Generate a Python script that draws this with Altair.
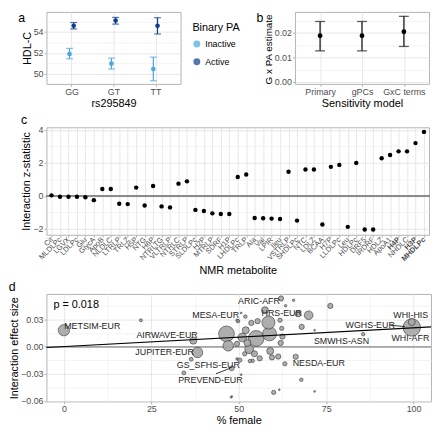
import altair as alt
import pandas as pd

FONT = "Liberation Sans"
LABEL_C = "#4D4D4D"
GRID = "#E0E0E0"
MINOR = "#F0F0F0"
BORDER = "#B3B3B3"
TRANSP = "rgba(0,0,0,0)"

# ---------------- panel a data ----------------
genotypes = ["GG", "GT", "TT"]
pa_levels = ["Inactive", "Active"]
inactive_est = [51.90, 50.98, 50.46]
inactive_lo = [51.44, 50.46, 49.35]
inactive_hi = [52.43, 51.50, 51.60]
active_est = [54.58, 55.08, 54.58]
active_lo = [54.28, 54.74, 53.80]
active_hi = [54.89, 55.38, 55.35]
pa_colors = ["#4BA7DD", "#0E3F8C"]

# ---------------- panel b data ----------------
models = ["Primary", "gPCs", "GxC terms"]
model_est = [0.0189, 0.0189, 0.0205]
model_lo = [0.0127, 0.0127, 0.0145]
model_hi = [0.0247, 0.0247, 0.0268]

# ---------------- panel c data ----------------
metabolites = ["Cit", "MLDLPc", "LGVX", "LDLPc", "Glu", "GlycA", "ApoB", "NLDLC",
               "LTRLP", "TRLZ", "H5P", "NTG", "H6P", "NTRLTG", "VLTRLP", "NTRLC",
               "STRLP", "SLDLPc", "H2P", "MTRLP", "SDRF", "H1P", "LHDLPc", "TRLP",
               "Ala", "Val", "LPIR", "Ileu", "VSTRLP", "SHDLPc", "NTC", "LDLZ",
               "BCAA", "H7P", "LLDLPc", "Leu", "HDLPc", "DRF5", "IRDRF", "HDLZ",
               "ApoA1", "H4P", "NHDLC", "H3P", "MHDLPc"]
z_stat = [0.03, -0.05, -0.05, -0.05, -0.08, -0.26, 0.42, 0.42,
          -0.48, -0.50, 0.50, -0.58, 0.60, -0.64, -0.70, 0.74,
          0.88, -0.85, -0.92, -1.06, -1.10, -1.10, 1.14, 1.30,
          -1.34, -1.36, -1.38, -1.40, 1.46, -1.50, 1.60, 1.60,
          -1.74, 1.76, 1.88, -1.88, 2.00, -2.04, -2.04, 2.28,
          2.48, 2.70, 2.70, 3.20, 3.88]
significant = ["H4P", "H3P", "MHDLPc"]

# ---------------- panel d data ----------------
pct_female = [0, 22, 37, 38.2, 36.4, 34.3, 48, 46.5, 47, 47.8, 49.5, 49.5,
              62.1, 63.4, 65.7, 76.2, 58.5, 58.8, 55, 57.5, 70, 67, 50.7, 51.9,
              49.8, 53.6, 55.4, 61.8, 68, 71.7, 62.3, 99.5, 99.5, 85.6, 66.3,
              63.2, 50.3, 67.9, 60, 61.6, 71.7, 48, 50.7, 54, 52, 51, 52.5, 53,
              54.5, 56, 59, 61.3, 62, 62.5, 59.5, 49.5, 51.7, 53.2]
effect = [0.018, 0.029, 0.0065, -0.0065, -0.014, -0.029, -0.024, 0.014, 0.0008,
          -0.056, 0.029, -0.0136, 0.053, 0.045, 0.051, 0.0448, 0.0264, 0.014,
          0.009, 0.040, 0.0345, 0.036, 0.037, 0.033, 0.028, 0.026, 0.028, 0.029,
          0.0217, 0.018, 0.020, 0.027, 0.021, 0.0136, -0.0113, -0.019, -0.015,
          -0.0366, -0.0506, -0.0476, -0.0495, -0.055, -0.031, -0.0157, 0.018,
          0.010, 0.004, -0.003, -0.008, -0.013, -0.005, -0.011, 0.004, 0.011,
          -0.012, 0.003, -0.008, -0.016]
weight = [42, 3, 16, 36, 5, 5, 8, 81, 36, 1, 2, 2, 9, 2, 2, 9, 56, 64, 81, 16,
          25, 12, 1, 4, 4, 9, 9, 6, 9, 1, 6, 16, 100, 4, 9, 6, 6, 4, 6, 1, 1, 1,
          1, 4, 16, 25, 16, 25, 12, 9, 16, 9, 9, 9, 9, 9, 6, 4]

cohort_names = ["METSIM-EUR", "ARIC-AFR", "MESA-EUR", "HRS-EUR", "AIRWAVE-EUR",
                "JUPITER-EUR", "GS_SFHS-EUR", "PREVEND-EUR", "WGHS-EUR", "WHI-HIS",
                "WHI-AFR", "SMWHS-ASN", "NESDA-EUR"]
cohort_lab_x = [8.1, 55.8, 43.4, 62.3, 29.5, 28.8, 41.3, 41.9, 87.6, 99.2, 99.1, 79.4, 72.9]
cohort_lab_y = [0.0228, 0.0503, 0.0349, 0.0371, 0.0125, -0.0066, -0.0205, -0.037,
                0.0235, 0.0345, 0.0099, 0.0063, -0.0187]
connector_x = [93.3, 43.5]
connector_x2 = [97.5, 47.5]
connector_y = [0.0235, -0.030]
connector_y2 = [0.022, -0.024]
fit_x = [-5, 105]
fit_y = [-0.00114, 0.0217]
p_text = "p = 0.018"


def tag(letter, offset=0, dy=0, dx=0):
    return alt.TitleParams(letter, anchor="start", frame="bounds", offset=offset, dy=dy, dx=dx,
                           fontSize=12.5, fontWeight="normal", font=FONT)


def cond(test, yes, no):
    return {"condition": {"test": test, "value": yes}, "value": no}


# ======================= panel a =======================
rows = []
for i, g in enumerate(genotypes):
    rows.append(dict(geno=g, pa="Inactive", est=inactive_est[i], lo=inactive_lo[i], hi=inactive_hi[i]))
    rows.append(dict(geno=g, pa="Active", est=active_est[i], lo=active_lo[i], hi=active_hi[i]))
dfa = pd.DataFrame(rows)

geno_list = "[" + ",".join("'%s'" % g for g in genotypes) + "]"
color_a = alt.Color("pa:N", scale=alt.Scale(domain=pa_levels, range=pa_colors),
                    legend=alt.Legend(title="Binary PA", symbolType="circle", symbolSize=30,
                                      titleFontSize=11, labelFontSize=9, titleFontWeight="normal",
                                      titleColor="black", labelColor="black", offset=2,
                                      padding=10, rowPadding=5, titlePadding=7))
xa = alt.X("xpos:Q", scale=alt.Scale(domain=[0.4, 3.6], nice=False, zero=False),
           axis=alt.Axis(values=[1, 2, 3], labelExpr=geno_list + "[datum.value-1]",
                         title="rs295849", grid=True, gridColor=GRID))
minor2 = "datum.value % 2 == 0"
ya_axis = alt.Axis(values=[49, 50, 51, 52, 53, 54, 55],
                   labelExpr="datum.value % 2 == 0 ? datum.label : ''",
                   gridColor=cond(minor2, GRID, MINOR),
                   tickColor=cond(minor2, BORDER, TRANSP),
                   title="HDL-C", grid=True)
ya_scale = alt.Scale(domain=[49.05, 55.9], nice=False, zero=False)

base_a = alt.Chart(dfa).transform_calculate(
    xpos="indexof(" + geno_list + ", datum.geno) + 1 + (datum.pa == 'Active' ? 0.05 : -0.05)"
)
a_rule = base_a.mark_rule(strokeWidth=1.2).encode(
    x=xa, y=alt.Y("lo:Q", scale=ya_scale, axis=ya_axis), y2="hi:Q", color=color_a)
a_cap_lo = base_a.mark_tick(orient="horizontal", size=7, thickness=1.2).encode(
    x=xa, y=alt.Y("lo:Q", scale=ya_scale, axis=ya_axis), color=color_a)
a_cap_hi = base_a.mark_tick(orient="horizontal", size=7, thickness=1.2).encode(
    x=xa, y=alt.Y("hi:Q", scale=ya_scale, axis=ya_axis), color=color_a)
a_pt = base_a.mark_point(filled=True, size=22, opacity=1).encode(
    x=xa, y=alt.Y("est:Q", scale=ya_scale, axis=ya_axis), color=color_a)
panel_a = alt.layer(a_rule, a_cap_lo, a_cap_hi, a_pt).properties(
    width=136, height=73, title=tag("a", 0, 13, -3))

# ======================= panel b =======================
dfb = pd.DataFrame(dict(model=models, est=model_est, lo=model_lo, hi=model_hi))
xb = alt.X("model:N", sort=models, scale=alt.Scale(type="point", padding=0.6),
           axis=alt.Axis(title="Sensitivity model", labelAngle=0, grid=True, gridColor=GRID))
minorb = "round(datum.value*1000) % 10 == 0"
yb_axis = alt.Axis(values=[0, 0.005, 0.01, 0.015, 0.02, 0.025],
                   labelExpr="round(datum.value*1000) % 10 == 0 ? format(datum.value, '.2f') : ''",
                   gridColor=cond(minorb, GRID, MINOR),
                   tickColor=cond(minorb, BORDER, TRANSP),
                   title="G x PA estimate", titleFontSize=10, titleAnchor="start", grid=True)
yb_scale = alt.Scale(domain=[-0.0008, 0.0286], nice=False, zero=False)
base_b = alt.Chart(dfb)
b_rule = base_b.mark_rule(strokeWidth=1.3, color="#1A1A1A").encode(
    x=xb, y=alt.Y("lo:Q", scale=yb_scale, axis=yb_axis), y2="hi:Q")
b_cap_lo = base_b.mark_tick(orient="horizontal", size=10, thickness=1.3, color="#1A1A1A").encode(
    x=xb, y=alt.Y("lo:Q", scale=yb_scale, axis=yb_axis))
b_cap_hi = base_b.mark_tick(orient="horizontal", size=10, thickness=1.3, color="#1A1A1A").encode(
    x=xb, y=alt.Y("hi:Q", scale=yb_scale, axis=yb_axis))
b_pt = base_b.mark_point(filled=True, size=24, color="black", opacity=1).encode(
    x=xb, y=alt.Y("est:Q", scale=yb_scale, axis=yb_axis))
panel_b = alt.layer(b_rule, b_cap_lo, b_cap_hi, b_pt).properties(
    width=136, height=73, title=tag("b", 0, 13, -7))

# ======================= panel c =======================
dfc = pd.DataFrame(dict(metabolite=metabolites, z=z_stat))
sig_list = "[" + ",".join("'%s'" % s for s in significant) + "]"
xc = alt.X("metabolite:N", sort=metabolites, scale=alt.Scale(type="point", padding=0.6),
           axis=alt.Axis(title="NMR metabolite", labelAngle=-45, labelAlign="right",
                         labelBaseline="middle", labelFontSize=7.5, labelColor=LABEL_C,
                         labelFontWeight=cond("indexof(" + sig_list + ", datum.value) >= 0",
                                              "bold", "normal"),
                         labelPadding=1, titlePadding=3, grid=True, gridColor=GRID))
minorc = "datum.value % 2 == 0"
yc_axis = alt.Axis(values=[-2, -1, 0, 1, 2, 3, 4],
                   labelExpr="datum.value % 2 == 0 ? datum.label : ''",
                   gridColor=cond(minorc, GRID, MINOR),
                   tickColor=cond(minorc, BORDER, TRANSP),
                   title="Interaction z-statistic", grid=True)
yc_scale = alt.Scale(domain=[-2.36, 4.16], nice=False, zero=False)
c_pt = alt.Chart(dfc).mark_point(filled=True, size=20, color="black", opacity=1).encode(
    x=xc, y=alt.Y("z:Q", scale=yc_scale, axis=yc_axis))
c_zero = alt.Chart(dfc).mark_rule(color="#8C8C8C", strokeWidth=0.9).encode(
    y=alt.Y(datum=0, scale=yc_scale, axis=yc_axis))
panel_c = alt.layer(c_zero, c_pt).properties(
    width=388, height=109, title=tag("c", 0, 0))

# ======================= panel d =======================
dfd = pd.DataFrame(dict(pf=pct_female, eff=effect, w=weight))
dfl = pd.DataFrame(dict(label=cohort_names, lx=cohort_lab_x, ly=cohort_lab_y))
dfs = pd.DataFrame(dict(x=connector_x, x2=connector_x2, y=connector_y, y2=connector_y2))
dff = pd.DataFrame(dict(x=fit_x, y=fit_y))
dfp = pd.DataFrame(dict(label=[p_text], x=[-3.0], y=[0.046]))

xd_scale = alt.Scale(domain=[-5, 105], nice=False, zero=False)
yd_scale = alt.Scale(domain=[-0.0605, 0.058], nice=False, zero=False)
minordx = "datum.value % 25 == 0"
minordy = "abs(round(datum.value*1000)) % 30 == 0"
xd_axis = alt.Axis(values=[0, 12.5, 25, 37.5, 50, 62.5, 75, 87.5, 100],
                   labelExpr="datum.value % 25 == 0 ? datum.label : ''",
                   gridColor=cond(minordx, GRID, MINOR),
                   tickColor=cond(minordx, BORDER, TRANSP),
                   title="% female", grid=True)
yd_axis = alt.Axis(values=[-0.06, -0.045, -0.03, -0.015, 0, 0.015, 0.03, 0.045],
                   labelExpr="abs(round(datum.value*1000)) % 30 == 0 ? format(datum.value, '.2f') : ''",
                   gridColor=cond(minordy, GRID, MINOR),
                   tickColor=cond(minordy, BORDER, TRANSP),
                   title="Interaction effect size", grid=True)
XD = dict(scale=xd_scale, axis=xd_axis)
YD = dict(scale=yd_scale, axis=yd_axis)

d_pts = alt.Chart(dfd).mark_circle(color="#A8A8A8", stroke="#222222", strokeWidth=0.6,
                                   opacity=0.92).encode(
    x=alt.X("pf:Q", **XD),
    y=alt.Y("eff:Q", **YD),
    size=alt.Size("w:Q", scale=alt.Scale(domain=[0, 100], range=[0, 314]), legend=None),
    order=alt.Order("w:Q", sort="descending"))
d_zero = alt.Chart(dfd).mark_rule(color="#A6A6A6", strokeWidth=0.9).encode(
    y=alt.Y(datum=0, **YD))
d_fit = alt.Chart(dff).mark_line(color="black", strokeWidth=1.1, clip=True).encode(
    x=alt.X("x:Q", **XD), y=alt.Y("y:Q", **YD))
d_seg = alt.Chart(dfs).mark_rule(color="black", strokeWidth=0.8).encode(
    x=alt.X("x:Q", **XD), x2="x2:Q", y=alt.Y("y:Q", **YD), y2="y2:Q")
d_lab = alt.Chart(dfl).mark_text(fontSize=9, font=FONT, color="#222222").encode(
    x=alt.X("lx:Q", **XD), y=alt.Y("ly:Q", **YD), text="label:N")
d_p = alt.Chart(dfp).mark_text(fontSize=11, font=FONT, color="black", align="left").encode(
    x=alt.X("x:Q", **XD), y=alt.Y("y:Q", **YD), text="label:N")
panel_d = alt.layer(d_zero, d_pts, d_fit, d_seg, d_lab, d_p).properties(
    width=390, height=109, title=tag("d", 0, 0))

row1 = alt.hconcat(panel_a, panel_b, spacing=4).resolve_legend(color="independent").resolve_scale(color="independent")
chart = alt.vconcat(row1, panel_c, panel_d, spacing=4).resolve_legend(
    color="independent", size="independent").resolve_scale(color="independent", size="independent").properties(
    padding={"left": 0, "top": 0, "right": 0, "bottom": 0}
).configure_axis(
    labelFont=FONT, titleFont=FONT, labelFontSize=9, titleFontSize=11,
    labelColor=LABEL_C, titleColor="black", titleFontWeight="normal",
    domain=False, tickSize=2.5, tickColor=BORDER, labelPadding=1, titlePadding=1,
    gridWidth=0.8, labelOverlap=False
).configure_view(stroke=BORDER, strokeWidth=1).configure_legend(
    labelFont=FONT, titleFont=FONT
).configure_title(font=FONT)

chart.save("out.html", embed_options={"renderer": "svg", "actions": False})
